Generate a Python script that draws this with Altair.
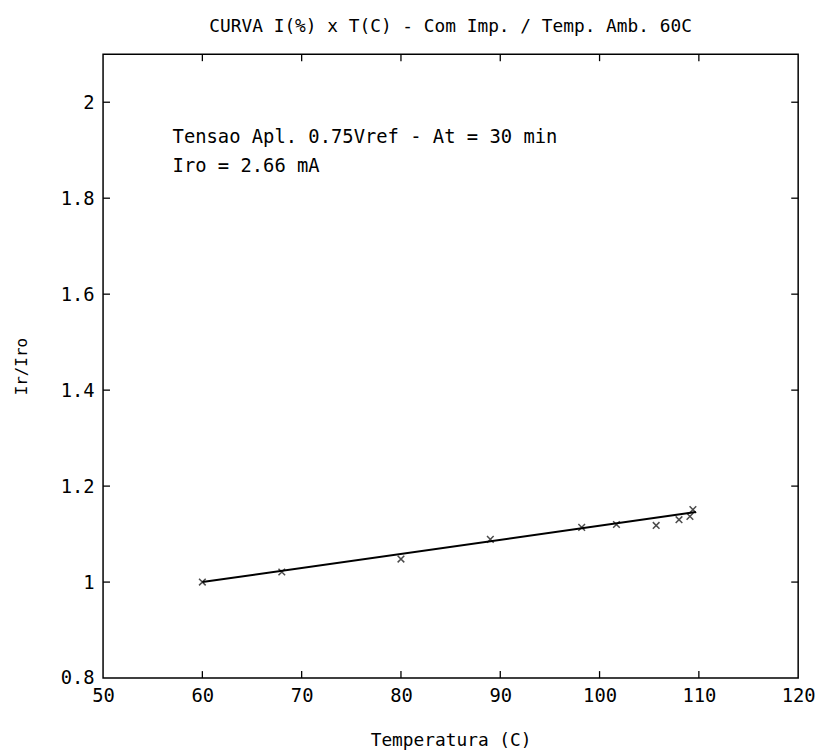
import altair as alt
import pandas as pd

# measured points (Temperatura, Ir/Iro)
temp = [60, 68, 80, 89, 98.2, 101.7, 105.7, 108, 109.1, 109.4]
ratio = [1.0, 1.021, 1.048, 1.089, 1.114, 1.12, 1.118, 1.13, 1.137, 1.151]
# fitted line end points
fit_temp = [60, 109.7]
fit_ratio = [1.0, 1.146]
# tick positions
x_ticks = [60, 70, 80, 90, 100, 110]
y_ticks = [1.0, 1.2, 1.4, 1.6, 1.8, 2.0]
# annotations
notes = ["Tensao Apl. 0.75Vref - At = 30 min", "Iro = 2.66 mA"]
note_x = [57, 57]
note_y = [1.928, 1.868]

FONT = "DejaVu Sans Mono"
FS = 18
W, H = 702, 630

pts = pd.DataFrame({"t": temp, "r": ratio})
fit = pd.DataFrame({"t": fit_temp, "r": fit_ratio})
xt = pd.DataFrame({"t": x_ticks})
yt = pd.DataFrame({"r": y_ticks})
nt = pd.DataFrame({"txt": notes, "t": note_x, "r": note_y})

xscale = alt.Scale(domain=[50, 120], nice=False, zero=False)
yscale = alt.Scale(domain=[0.8, 2.1], nice=False, zero=False)

xaxis = alt.Axis(values=list(range(50, 121, 10)), grid=False, ticks=False, domain=False,
                 labelFont=FONT, labelFontSize=19, labelColor="black", labelPadding=9,
                 labelFlush=False,
                 title="Temperatura (C)", titleFont=FONT, titleFontSize=FS,
                 titleFontWeight="normal", titleColor="black", titlePadding=26)
yaxis = alt.Axis(values=[0.8, 1.0, 1.2, 1.4, 1.6, 1.8, 2.0], format="~g", grid=False,
                 ticks=False, domain=False, labelFont=FONT, labelFontSize=19,
                 labelColor="black", labelPadding=9, labelFlush=False,
                 title="Ir/Iro", titleFont=FONT, titleFontSize=16,
                 titleFontWeight="normal", titleColor="black", titlePadding=31)

line = alt.Chart(fit).mark_line(color="black", strokeWidth=2).encode(
    x=alt.X("t:Q", scale=xscale, axis=xaxis),
    y=alt.Y("r:Q", scale=yscale, axis=yaxis),
)

marks = alt.Chart(pts).mark_point(
    shape="M-1,-1L1,1M-1,1L1,-1", size=45, filled=False, color="black", strokeWidth=1.5
).encode(x=alt.X("t:Q", scale=xscale), y=alt.Y("r:Q", scale=yscale))

tick_len = 7
xb = alt.Chart(xt).mark_rule(color="black", strokeWidth=1.3).encode(
    x=alt.X("t:Q", scale=xscale), y=alt.value(H), y2=alt.value(H - tick_len))
xtp = alt.Chart(xt).mark_rule(color="black", strokeWidth=1.3).encode(
    x=alt.X("t:Q", scale=xscale), y=alt.value(0), y2=alt.value(tick_len))
yl = alt.Chart(yt).mark_rule(color="black", strokeWidth=1.3).encode(
    y=alt.Y("r:Q", scale=yscale), x=alt.value(0), x2=alt.value(tick_len))
yr = alt.Chart(yt).mark_rule(color="black", strokeWidth=1.3).encode(
    y=alt.Y("r:Q", scale=yscale), x=alt.value(W), x2=alt.value(W - tick_len))

txt = alt.Chart(nt).mark_text(font=FONT, fontSize=19, align="left", baseline="middle",
                              color="black").encode(
    x=alt.X("t:Q", scale=xscale), y=alt.Y("r:Q", scale=yscale), text="txt:N")

chart = alt.layer(line, marks, xb, xtp, yl, yr, txt).properties(
    width=W, height=H,
    title=alt.TitleParams("CURVA I(%) x T(C) - Com Imp. / Temp. Amb. 60C",
                          font=FONT, fontSize=FS, fontWeight="normal", color="black",
                          offset=18, anchor="middle"),
    autosize=alt.AutoSizeParams(type="none"),
    padding={"left": 96, "top": 43, "right": 17, "bottom": 72},
    background="white",
).configure_view(stroke="black", strokeWidth=1.5)

chart.save("out.html", embed_options={"renderer": "svg", "actions": False})
